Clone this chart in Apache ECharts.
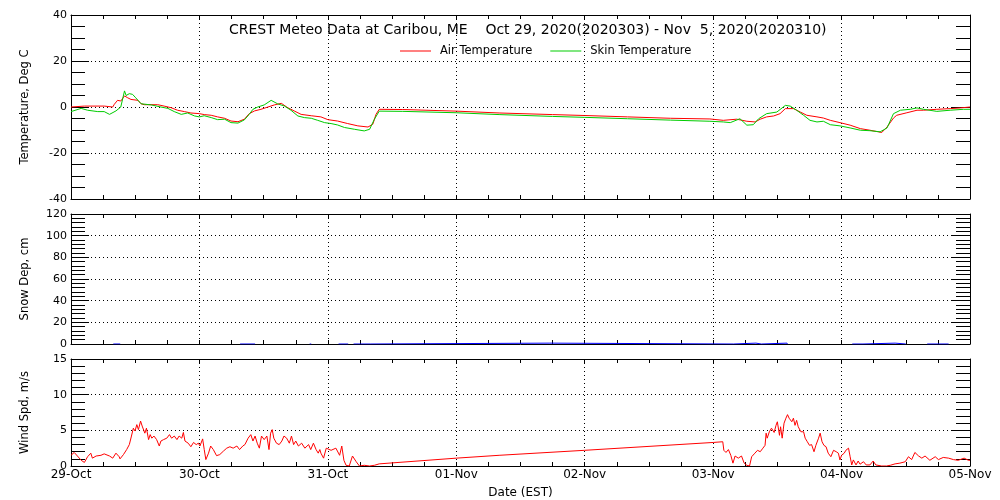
<!DOCTYPE html>
<html>
<head>
<meta charset="utf-8">
<script src="https://cdn.jsdelivr.net/npm/echarts@6/dist/echarts.min.js"></script>
<style>html,body{margin:0;padding:0;background:#fff}#c{width:1000px;height:500px}</style>
</head>
<body>
<div id="c"></div>
<script>
// ---- Data (hours since 29-Oct 00:00 EST) ----
var dayLabels = ['29-Oct','30-Oct','31-Oct','01-Nov','02-Nov','03-Nov','04-Nov','05-Nov'];
var titleText = 'CREST Meteo Data at Caribou, ME    Oct 29, 2020(2020303) - Nov  5, 2020(2020310)';

var airHours = [0,2.5,6.2,7.8,8.1,8.7,9.3,10.0,10.6,11.2,12.5,13.1,13.7,16.2,17.4,18.7,19.9,21.2,22.4,24.0,24.9,26.2,27.4,28.7,29.9,31.2,32.4,33.3,34.3,35.5,36.8,38.0,39.3,40.5,41.7,43.0,44.9,46.7,48.0,49.8,51.7,53.6,55.5,56.4,57.0,57.6,62,72,80,90,96,104,112,119.4,121.9,124.4,126.3,127.85,128.8,130.0,131.3,132.5,133.5,135.0,136.3,137.5,139.4,140.6,141.9,143.7,145.6,147.5,149.3,150.9,151.5,152.5,153.7,154.3,156.2,158.1,159.3,161.8,164.3,166.2,168];
var airTemp  = [0,0.4,0.4,0,1.2,2.9,2.6,4.8,4.0,3.3,2.9,1.4,1.0,1.0,0.4,-0.3,-1.4,-2.0,-2.6,-2.9,-3.3,-3.6,-4.3,-4.9,-6.1,-6.4,-5.3,-2.9,-1.7,-1.0,0.0,0.9,1.6,-0.3,-1.7,-3.2,-3.8,-4.3,-5.5,-6.1,-7.2,-8.2,-8.7,-7.5,-3.2,-1.0,-1.1,-1.8,-2.6,-3.3,-3.7,-4.3,-4.9,-5.2,-5.8,-5.3,-6.2,-6.5,-5.3,-4.3,-3.9,-2.9,-0.7,-0.7,-2.2,-3.6,-4.3,-4.8,-5.8,-6.8,-7.9,-9.4,-10.1,-10.8,-11.1,-8.7,-4.8,-3.6,-2.5,-1.4,-1.4,-1.0,-0.7,-0.4,0];

var skinHours = [0,1.9,3.1,5.0,6.2,7.2,8.4,9.3,10.0,10.3,10.9,11.5,12.1,13.1,15.0,16.8,18.1,19.3,20.6,21.8,23.1,24.0,24.9,26.2,27.4,28.7,29.9,31.2,32.4,33.3,34.0,34.9,36.1,37.4,38.6,39.9,41.1,42.4,43.6,44.9,46.1,47.4,48.6,49.8,51.1,53.0,54.8,55.8,56.7,57.6,62,72,80,90,96,104,112,119.4,121.9,123.2,125.0,126.3,127.5,128.5,130.0,131.9,133.5,134.4,135.6,136.9,138.1,139.4,140.6,141.9,143.7,145.6,147.5,149.3,151.2,152.5,153.7,155.0,156.8,158.1,159.3,161.8,164.3,166.8,168];
var skinTemp  = [-2.0,-0.6,-1.4,-2.0,-2.0,-3.2,-1.7,0.0,7.0,5.0,5.8,5.5,4.0,1.4,0.9,0.0,-0.6,-2.0,-3.2,-2.6,-3.9,-4.3,-3.8,-4.6,-5.5,-5.3,-6.8,-7.0,-5.6,-3.2,-1.0,0.0,0.9,2.9,1.4,0.4,-1.4,-3.9,-4.6,-4.9,-5.8,-6.8,-7.2,-7.8,-8.9,-9.7,-10.4,-9.7,-5.3,-1.8,-1.9,-2.5,-3.3,-4.1,-4.5,-5.1,-5.7,-6.2,-6.5,-6.8,-5.1,-7.9,-7.7,-5.1,-2.9,-2.2,0.7,0.4,-1.4,-3.6,-5.8,-6.5,-6.2,-7.7,-8.2,-9.1,-10.1,-10.3,-10.8,-9.1,-2.9,-1.4,-1.0,-0.4,-1.0,-1.9,-1.4,-1.0,-1.0];

var snowHours = [7.9,9.2,9.3,31.6,34.4,34.5,44.6,44.9,45.0,50.0,51.8,51.9,52.8,55.9,56.0,89.5,89.6,123.8,123.9,128.0,128.1,129.0,129.1,133.8,133.9,134.0,146.0,148.0,148.1,154.0,154.1,156.0,156.1,160.0,164.0];
var snowDepth = [0,0,null,0,0,null,0,0,null,0,0,null,0,0,0.8,0.8,0,0,0.8,0.8,0,0,0.8,0.8,0,null,0,0,0.8,0.8,0,0,null,0,0];

var windHours = [0.0,0.6,1.2,1.9,2.5,3.1,3.7,4.0,4.7,5.6,6.2,7.2,7.8,8.4,9.0,
  9.16,9.8,10.4,10.9,11.3,11.65,11.96,12.3,12.6,13.0,13.3,13.5,13.8,14.1,14.5,14.8,15.1,15.5,16.0,16.5,16.8,17.3,17.9,18.4,18.8,19.3,19.8,20.2,20.7,21.0,21.3,21.9,22.4,22.9,23.4,23.8,24.1,24.6,24.9,25.2,25.7,26.1,26.6,27.2,27.8,28.5,29.1,29.7,30.3,31.0,31.5,32.1,32.5,33.1,33.6,34.0,34.4,34.8,35.2,35.6,36.1,36.6,37.0,37.3,37.6,37.9,38.4,38.9,39.4,39.8,40.3,40.8,41.2,41.6,42.0,42.5,43.1,43.7,44.4,44.8,45.3,45.8,46.2,46.5,
  46.7,47.2,47.7,48.6,49.5,50.2,50.6,51.0,51.4,52.0,52.6,53.3,53.9,54.8,55.8,56.7,57.6,72,80,96,120,121.8,122.0,122.4,122.85,123.3,123.7,124.1,124.7,125.3,125.8,126.3,126.8,127.2,127.8,128.3,
  128.8,129.3,129.7,129.9,130.1,130.5,130.9,131.4,131.75,132.0,132.4,132.6,132.9,133.25,133.6,133.9,134.2,134.7,135.0,135.3,135.6,135.9,136.4,136.9,137.2,137.6,138.0,138.4,138.85,139.2,139.7,140.0,140.35,140.7,141.1,141.5,142.0,142.5,143.0,143.4,143.7,144.0,144.5,144.8,145.3,145.6,145.9,146.2,146.7,147.1,147.45,148.1,148.6,149.3,149.9,150.4,
  150.6,151.5,152.4,153.1,154.0,154.9,155.9,156.5,157.1,157.7,158.4,159.0,159.6,160.5,161.5,162.1,163.0,164.0,164.9,165.8,166.9,167.7,168.0];
var windSpeed = [1.5,1.9,1.4,0.8,0.5,1.3,1.8,1.1,1.4,1.5,1.7,1.4,1.1,1.8,1.3,
  1.0,1.6,2.3,3.0,4.2,5.3,4.9,5.8,5.1,6.3,5.6,5.8,4.6,5.3,3.7,4.4,3.9,4.2,3.7,2.8,3.5,3.7,3.9,4.4,3.9,4.2,3.7,4.2,3.9,4.7,3.5,3.2,2.7,3.3,3.0,3.2,2.8,3.8,2.3,0.9,1.8,2.8,2.3,1.45,1.6,2.1,2.5,2.7,2.5,2.8,2.3,2.8,3.0,3.9,4.4,3.5,4.2,3.2,2.5,4.2,3.7,4.2,2.3,4.6,5.1,3.9,3.2,3.0,3.5,4.2,3.9,3.2,4.2,3.0,3.5,2.8,3.2,2.5,3.0,2.3,3.2,2.3,1.8,2.3,
  1.8,1.1,2.5,2.2,2.5,1.5,2.8,0.8,0.1,0,1.4,0.6,0,0.1,0,0.1,0.3,1.1,1.5,2.2,3.3,3.4,2.2,1.9,2.3,1.5,0.4,1.4,1.1,1.4,0.4,0.1,0,1.3,1.8,2.2,
  2.0,2.5,2.9,4.6,3.9,4.8,5.3,4.7,5.7,6.2,4.3,5.5,3.9,6.0,6.7,7.2,6.7,6.2,6.7,5.7,6.4,5.5,4.8,4.8,3.9,3.4,2.9,3.0,2.0,2.9,3.9,4.6,3.4,2.9,2.7,1.8,1.3,2.2,2.0,1.8,0.85,1.5,1.8,2.2,2.5,1.3,0.15,0.85,0.15,0.7,0.25,0.6,0.15,0.15,0.7,0.15,
  0,0,0,0.1,0.3,0.4,0.6,1.3,0.9,1.9,1.4,1.1,1.4,0.8,1.3,0.9,1.2,1.1,0.9,0.8,1.1,0.8,0.8];

function pairs(h, v) { return h.map(function (x, i) { return [x, v[i] == null ? '-' : v[i]]; }); }

var FONT = 'DejaVu Sans';
var grids = [
  {left: 71, right: 30, top: 15, height: 184},
  {left: 71, right: 30, top: 214, height: 130},
  {left: 71, right: 30, top: 359, height: 108}
];
var yCfg = [
  {min: -40, max: 40, interval: 20, minor: 4, name: 'Temperature, Deg C'},
  {min: 0, max: 120, interval: 20, minor: 5, name: 'Snow Dep, cm'},
  {min: 0, max: 15, interval: 5, minor: 5, name: 'Wind Spd, m/s'}
];
var black = '#000';
var dotted = {show: true, lineStyle: {color: black, type: [1, 3], width: 1}};

var xAxes = [], yAxes = [];
for (var g = 0; g < 3; g++) {
  var isLast = g === 2;
  xAxes.push({
    type: 'value', gridIndex: g, position: 'bottom', min: 0, max: 168, interval: 24,
    axisLine: {show: true, onZero: false, lineStyle: {color: black, width: 1}},
    axisTick: {show: true, inside: true, length: 4, lineStyle: {color: black}},
    minorTick: {show: true, splitNumber: 4, length: 4, lineStyle: {color: black}},
    splitLine: dotted,
    axisLabel: {show: isLast, color: black, fontFamily: FONT, fontSize: 12, margin: 3,
      formatter: function (v) { return dayLabels[Math.round(v / 24)]; }},
    name: isLast ? 'Date (EST)' : '', nameLocation: 'middle', nameGap: 21,
    nameTextStyle: {color: black, fontFamily: FONT, fontSize: 12}
  });
  xAxes.push({
    type: 'value', gridIndex: g, position: 'top', min: 0, max: 168, interval: 24,
    axisLine: {show: true, onZero: false, lineStyle: {color: black, width: 1}},
    axisTick: {show: true, inside: true, length: 4, lineStyle: {color: black}},
    minorTick: {show: true, splitNumber: 4, length: 4, lineStyle: {color: black}},
    splitLine: {show: false}, axisLabel: {show: false}
  });
  var c = yCfg[g];
  yAxes.push({
    type: 'value', gridIndex: g, position: 'left', min: c.min, max: c.max, interval: c.interval,
    axisLine: {show: true, onZero: false, lineStyle: {color: black, width: 1}},
    axisTick: {show: true, inside: true, length: 18, lineStyle: {color: black}},
    minorTick: {show: true, splitNumber: c.minor, length: 14, lineStyle: {color: black}},
    splitLine: dotted,
    axisLabel: {color: black, fontFamily: FONT, fontSize: 11, margin: 4},
    name: c.name, nameLocation: 'middle', nameGap: 40, nameRotate: 90,
    nameTextStyle: {color: black, fontFamily: FONT, fontSize: 11.5}
  });
  yAxes.push({
    type: 'value', gridIndex: g, position: 'right', min: c.min, max: c.max, interval: c.interval,
    axisLine: {show: true, onZero: false, lineStyle: {color: black, width: 1}},
    axisTick: {show: true, inside: true, length: 18, lineStyle: {color: black}},
    minorTick: {show: true, splitNumber: c.minor, length: 14, lineStyle: {color: black}},
    splitLine: {show: false}, axisLabel: {show: false}
  });
}

function lineSeries(name, data, color, xi, yi) {
  return {
    name: name, type: 'line', xAxisIndex: xi, yAxisIndex: yi, data: data,
    showSymbol: false, symbol: 'none', connectNulls: false, clip: true,
    lineStyle: {color: color, width: 1}, itemStyle: {color: color}, animation: false
  };
}

var option = {
  animation: false,
  backgroundColor: '#fff',
  textStyle: {fontFamily: FONT},
  title: {text: titleText, left: 229, top: 23, padding: 0,
    textStyle: {color: black, fontFamily: FONT, fontSize: 14, fontWeight: 'normal'}},
  legend: {
    left: 400, top: 45, padding: 0, itemWidth: 31, itemHeight: 1, itemGap: 18, icon: 'rect',
    textStyle: {color: black, fontFamily: FONT, fontSize: 11.5, padding: [0, 0, 0, 4]},
    data: ['Air Temperature', 'Skin Temperature']
  },
  grid: grids,
  xAxis: xAxes,
  yAxis: yAxes,
  series: [
    lineSeries('Air Temperature', pairs(airHours, airTemp), '#ff0000', 0, 0),
    lineSeries('Skin Temperature', pairs(skinHours, skinTemp), '#00cc00', 0, 0),
    lineSeries('Snow Depth', pairs(snowHours, snowDepth), '#0000ff', 2, 2),
    lineSeries('Wind Speed', pairs(windHours, windSpeed), '#ff0000', 4, 4)
  ]
};
var chart = echarts.init(document.getElementById('c'), null, {renderer: 'canvas'});
chart.setOption(option);
</script>
</body>
</html>
